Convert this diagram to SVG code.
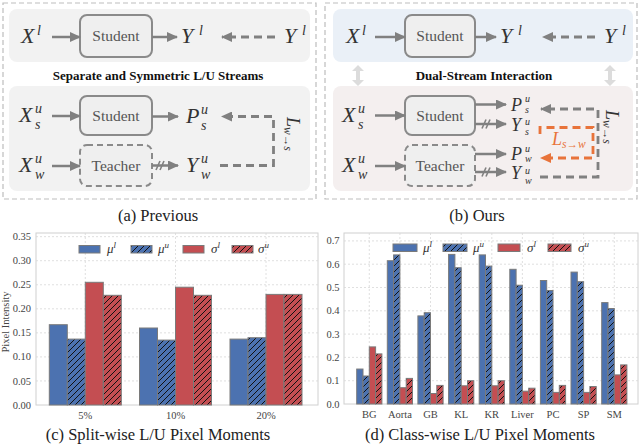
<svg xmlns="http://www.w3.org/2000/svg" width="640" height="446" viewBox="0 0 640 446">
<defs>
<style>
.frame{fill:none;stroke:#bdbdbd;stroke-width:1.2;stroke-dasharray:5 3}
.box{fill:#efefef;stroke:#8a8a8a;stroke-width:2}
.tbox{fill:#efefef;stroke:#8a8a8a;stroke-width:2;stroke-dasharray:6 4}
.lbl{font-family:"Liberation Serif","Times New Roman",serif;font-size:15.5px;fill:#555;text-anchor:middle}
.m{font-family:"Liberation Serif","Times New Roman",serif;font-style:italic;font-size:22px;fill:#333}
.ms{font-family:"Liberation Serif","Times New Roman",serif;font-style:italic;font-size:14px;fill:#333}
.m2{font-family:"Liberation Serif","Times New Roman",serif;font-style:italic;font-size:18px;fill:#333}
.ms2{font-family:"Liberation Serif","Times New Roman",serif;font-style:italic;font-size:11.5px;fill:#333}
.ms3{font-family:"Liberation Serif","Times New Roman",serif;font-style:italic;font-size:10px;fill:#333}
.arr{stroke:#808080;stroke-width:2.5;fill:none;marker-end:url(#ah)}
.darr{stroke:#808080;stroke-width:2.8;fill:none;stroke-dasharray:8 5;marker-end:url(#ah)}
.oarr{stroke:#e8733a;stroke-width:2.8;fill:none;stroke-dasharray:8 5;marker-end:url(#ahO)}
.sl{stroke:#808080;stroke-width:1.6}
.title{font-family:"Liberation Serif","Times New Roman",serif;font-weight:bold;font-size:13px;fill:#111;text-anchor:middle}
.cap{font-family:"Liberation Serif","Times New Roman",serif;font-size:16.5px;fill:#222;text-anchor:middle}
.tick{font-family:"Liberation Serif","Times New Roman",serif;font-size:10.5px;fill:#444}
.ty{text-anchor:end}
.tx{text-anchor:middle}
.grid{stroke:#d8d8d8;stroke-width:0.8;stroke-dasharray:2 2}
.pframe{fill:#fff;stroke:#d0d0d0;stroke-width:1}
.bar{stroke:#7a7a7a;stroke-width:1}
.b{fill:#4c72b0}
.hb{fill:url(#hB)}
.r{fill:#c44e52}
.hr{fill:url(#hR)}
.leg{font-family:"Liberation Serif","Times New Roman",serif;font-style:italic;font-size:13px;fill:#333}
.legs{font-size:9px}
.dbl{fill:#dcdcdc}
.or{fill:#e8733a}
</style>
<marker id="ah" viewBox="0 0 11 10" refX="10" refY="5" markerWidth="11" markerHeight="10" markerUnits="userSpaceOnUse" orient="auto"><path d="M0,0 L11,5 L0,10 z" fill="#808080"/></marker>
<marker id="ahO" viewBox="0 0 11 10" refX="10" refY="5" markerWidth="11" markerHeight="10" markerUnits="userSpaceOnUse" orient="auto"><path d="M0,0 L11,5 L0,10 z" fill="#e8733a"/></marker>
<pattern id="hB" patternUnits="userSpaceOnUse" width="6" height="6"><rect width="6" height="6" fill="#4c72b0"/><path d="M-1,1 L1,-1 M0,6 L6,0 M5,7 L7,5" stroke="#111" stroke-width="1"/></pattern>
<pattern id="hR" patternUnits="userSpaceOnUse" width="6" height="6"><rect width="6" height="6" fill="#c44e52"/><path d="M-1,1 L1,-1 M0,6 L6,0 M5,7 L7,5" stroke="#111" stroke-width="1"/></pattern>
</defs>

<!-- Panel (a) -->
<g id="panel-a">
<rect class="frame" x="3" y="3" width="313" height="196"/>
<rect x="9" y="9" width="301" height="53" rx="8" fill="#f2f2f2"/>
<rect x="9" y="86" width="301" height="105" rx="8" fill="#f2f2f2"/>
<text class="title" x="158" y="80">Separate and Symmetric L/U Streams</text>
<text class="cap" x="158" y="221">(a) Previous</text>
</g>
<g id="a-xl"><text class="m" x="21" y="43">X</text><text class="ms" x="37" y="35">l</text></g>
<g id="a-student1"><rect class="box" x="80" y="15" width="72" height="42" rx="7"/><text class="lbl" x="116" y="41">Student</text></g>
<g id="a-yl1"><text class="m" x="181" y="43">Y</text><text class="ms" x="199" y="35">l</text></g>
<g id="a-yl2"><text class="m" x="284" y="43">Y</text><text class="ms" x="302" y="35">l</text></g>
<g id="a-xsu"><text class="m" x="19" y="122">X</text><text class="ms" x="35" y="113">u</text><text class="ms" x="35" y="129">s</text></g>
<g id="a-student2"><rect class="box" x="80" y="96" width="72" height="39" rx="7"/><text class="lbl" x="116" y="121">Student</text></g>
<g id="a-psu"><text class="m" x="186" y="123">P</text><text class="ms" x="201" y="114">u</text><text class="ms" x="201" y="130">s</text></g>
<g id="a-xwu"><text class="m" x="19" y="172">X</text><text class="ms" x="35" y="163">u</text><text class="ms" x="35" y="179">w</text></g>
<g id="a-teacher"><rect class="tbox" x="80" y="145" width="72" height="41" rx="7"/><text class="lbl" x="116" y="171">Teacher</text></g>
<g id="a-ywu"><text class="m" x="186" y="172">Y</text><text class="ms" x="201" y="163">u</text><text class="ms" x="201" y="179">w</text></g>
<g id="a-lws"><text class="m2" transform="translate(287,117) rotate(90)">L<tspan class="ms2" dy="3">w→s</tspan></text></g>

<!-- Panel (b) -->
<g id="panel-b">
<rect class="frame" x="325" y="3" width="312" height="196"/>
<rect x="333" y="9" width="300" height="53" rx="8" fill="#eaf0f7"/>
<rect x="333" y="86" width="300" height="105" rx="8" fill="#f4efef"/>
<path class="dbl" d="M358,65 L364,71 L360,71 L360,80 L364,80 L358,86 L352,80 L356,80 L356,71 L352,71 Z"/>
<path class="dbl" d="M610,65 L616,71 L612,71 L612,80 L616,80 L610,86 L604,80 L608,80 L608,71 L604,71 Z"/>
<text class="title" x="484" y="80">Dual-Stream Interaction</text>
<text class="cap" x="477" y="221">(b) Ours</text>
</g>
<g id="b-xl"><text class="m" x="346" y="43">X</text><text class="ms" x="362" y="35">l</text></g>
<g id="b-student1"><rect class="box" x="405" y="15" width="70" height="42" rx="7"/><text class="lbl" x="440" y="41">Student</text></g>
<g id="b-yl1"><text class="m" x="500" y="43">Y</text><text class="ms" x="518" y="35">l</text></g>
<g id="b-yl2"><text class="m" x="604" y="43">Y</text><text class="ms" x="622" y="35">l</text></g>
<g id="b-xsu"><text class="m" x="342" y="122">X</text><text class="ms" x="358" y="113">u</text><text class="ms" x="358" y="129">s</text></g>
<g id="b-student2"><rect class="box" x="405" y="96" width="70" height="39" rx="7"/><text class="lbl" x="440" y="121">Student</text></g>
<g id="b-xwu"><text class="m" x="342" y="172">X</text><text class="ms" x="358" y="163">u</text><text class="ms" x="358" y="179">w</text></g>
<g id="b-teacher"><rect class="tbox" x="405" y="145" width="70" height="41" rx="7"/><text class="lbl" x="440" y="171">Teacher</text></g>
<g id="b-psu"><text class="m2" x="511" y="111">P</text><text class="ms3" x="525" y="102">u</text><text class="ms3" x="525" y="112.5">s</text></g>
<g id="b-ysu"><text class="m2" x="511" y="131">Y</text><text class="ms3" x="525" y="124.5">u</text><text class="ms3" x="525" y="135">s</text></g>
<g id="b-pwu"><text class="m2" x="511" y="160">P</text><text class="ms3" x="525" y="152">u</text><text class="ms3" x="525" y="162">w</text></g>
<g id="b-ywu"><text class="m2" x="511" y="179">Y</text><text class="ms3" x="525" y="173.5">u</text><text class="ms3" x="525" y="184">w</text></g>
<g id="b-lws"><text class="m2" transform="translate(606,110) rotate(90)">L<tspan class="ms2" dy="3">w→s</tspan></text></g>
<g id="b-lsw"><text class="m2 or" x="552" y="145">L<tspan class="ms2 or" dy="3">s→w</tspan></text></g>

<!-- Connectors -->
<g id="connectors">
<line class="arr" x1="52" y1="37" x2="80" y2="37"/>
<line class="arr" x1="152" y1="37" x2="177" y2="37"/>
<line class="darr" x1="275" y1="37" x2="222" y2="37"/>
<line class="arr" x1="52" y1="116" x2="80" y2="116"/>
<line class="arr" x1="152" y1="116.5" x2="178" y2="116.5"/>
<line class="arr" x1="52" y1="166" x2="80" y2="166"/>
<line class="arr" x1="152" y1="165.5" x2="178" y2="165.5"/>
<line class="sl" x1="156" y1="170" x2="160" y2="161"/><line class="sl" x1="160" y1="170" x2="164" y2="161"/>
<path class="darr" d="M220,165.5 L273.5,165.5 L273.5,116.5 L222,116.5"/>

<line class="arr" x1="375" y1="37" x2="405" y2="37"/>
<line class="arr" x1="475" y1="37" x2="496" y2="37"/>
<line class="darr" x1="595" y1="37" x2="543" y2="37"/>
<line class="arr" x1="375" y1="115.5" x2="405" y2="115.5"/>
<line class="arr" x1="375" y1="166" x2="405" y2="166"/>
<line class="arr" x1="475" y1="104.5" x2="506" y2="104.5"/>
<line class="arr" x1="475" y1="124" x2="506" y2="124"/>
<line class="sl" x1="482" y1="128.5" x2="486" y2="119.5"/><line class="sl" x1="486" y1="128.5" x2="490" y2="119.5"/>
<line class="arr" x1="475" y1="154" x2="506" y2="154"/>
<line class="arr" x1="475" y1="172" x2="506" y2="172"/>
<line class="sl" x1="482" y1="176.5" x2="486" y2="167.5"/><line class="sl" x1="486" y1="176.5" x2="490" y2="167.5"/>
<path class="darr" d="M540,177 L598,177 L598,109 L541,109"/>
<path class="oarr" d="M540,134 L540,127.5 L593,127.5 L593,158 L541,158"/>
</g>

<!-- Chart (c) -->
<g id="chart-c">
<rect class="pframe" x="36" y="233" width="282" height="172"/>
<g class="gridlines">
<line class="grid" x1="36" x2="318" y1="380.95" y2="380.95"/>
<line class="grid" x1="36" x2="318" y1="356.9" y2="356.9"/>
<line class="grid" x1="36" x2="318" y1="332.85" y2="332.85"/>
<line class="grid" x1="36" x2="318" y1="308.8" y2="308.8"/>
<line class="grid" x1="36" x2="318" y1="284.75" y2="284.75"/>
<line class="grid" x1="36" x2="318" y1="260.7" y2="260.7"/>
<line class="grid" x1="36" x2="318" y1="236.65" y2="236.65"/>
<line class="grid" x1="85.3" x2="85.3" y1="233" y2="405"/>
<line class="grid" x1="175.5" x2="175.5" y1="233" y2="405"/>
<line class="grid" x1="266" x2="266" y1="233" y2="405"/>
</g>
<g class="tick ty">
<text x="31" y="408.5">0.00</text>
<text x="31" y="384.5">0.05</text>
<text x="31" y="360.4">0.10</text>
<text x="31" y="336.4">0.15</text>
<text x="31" y="312.3">0.20</text>
<text x="31" y="288.3">0.25</text>
<text x="31" y="264.2">0.30</text>
<text x="31" y="240.2">0.35</text>
</g>
<g class="tick tx">
<text x="85.3" y="418.5">5%</text>
<text x="175.5" y="418.5">10%</text>
<text x="266" y="418.5">20%</text>
</g>
<text class="tick tx" transform="translate(9,322) rotate(-90)">Pixel Intensity</text>
<g class="bars">
<rect class="bar b" x="49.3" y="324.7" width="18" height="80.3"/>
<rect class="bar hb" x="67.3" y="339.1" width="18" height="65.9"/>
<rect class="bar r" x="85.3" y="282.3" width="18" height="122.7"/>
<rect class="bar hr" x="103.3" y="295.3" width="18" height="109.7"/>
<rect class="bar b" x="139.5" y="328" width="18" height="77"/>
<rect class="bar hb" x="157.5" y="340.1" width="18" height="64.9"/>
<rect class="bar r" x="175.5" y="287.2" width="18" height="117.8"/>
<rect class="bar hr" x="193.5" y="295.3" width="18" height="109.7"/>
<rect class="bar b" x="230" y="339.1" width="18" height="65.9"/>
<rect class="bar hb" x="248" y="337.7" width="18" height="67.3"/>
<rect class="bar r" x="266" y="294.4" width="18" height="110.6"/>
<rect class="bar hr" x="284" y="294.4" width="18" height="110.6"/>
</g>
<g class="legend">
<rect class="bar b" x="79" y="245.5" width="21" height="7.5"/>
<text class="leg" x="107" y="253">μ<tspan class="legs" dy="-5">l</tspan></text>
<rect class="bar hb" x="131" y="245.5" width="21" height="7.5"/>
<text class="leg" x="158" y="253">μ<tspan class="legs" dy="-5">u</tspan></text>
<rect class="bar r" x="183" y="245.5" width="21" height="7.5"/>
<text class="leg" x="211" y="253">σ<tspan class="legs" dy="-5">l</tspan></text>
<rect class="bar hr" x="232" y="245.5" width="21" height="7.5"/>
<text class="leg" x="258" y="253">σ<tspan class="legs" dy="-5">u</tspan></text>
</g>
<text class="cap" x="158" y="440">(c) Split-wise L/U Pixel Moments</text>
</g>

<!-- Chart (d) -->
<g id="chart-d">
<rect class="pframe" x="344" y="233" width="294" height="171"/>
<g class="gridlines">
<line class="grid" x1="344" x2="638" y1="380.7" y2="380.7"/>
<line class="grid" x1="344" x2="638" y1="357.4" y2="357.4"/>
<line class="grid" x1="344" x2="638" y1="334.1" y2="334.1"/>
<line class="grid" x1="344" x2="638" y1="310.8" y2="310.8"/>
<line class="grid" x1="344" x2="638" y1="287.5" y2="287.5"/>
<line class="grid" x1="344" x2="638" y1="264.2" y2="264.2"/>
<line class="grid" x1="344" x2="638" y1="240.9" y2="240.9"/>
<line class="grid" x1="369.3" x2="369.3" y1="233" y2="404"/>
<line class="grid" x1="399.9" x2="399.9" y1="233" y2="404"/>
<line class="grid" x1="430.5" x2="430.5" y1="233" y2="404"/>
<line class="grid" x1="461.2" x2="461.2" y1="233" y2="404"/>
<line class="grid" x1="491.8" x2="491.8" y1="233" y2="404"/>
<line class="grid" x1="522.4" x2="522.4" y1="233" y2="404"/>
<line class="grid" x1="553" x2="553" y1="233" y2="404"/>
<line class="grid" x1="583.6" x2="583.6" y1="233" y2="404"/>
<line class="grid" x1="614.3" x2="614.3" y1="233" y2="404"/>
</g>
<g class="tick ty">
<text x="339.5" y="407.5">0.0</text>
<text x="339.5" y="384.2">0.1</text>
<text x="339.5" y="360.9">0.2</text>
<text x="339.5" y="337.6">0.3</text>
<text x="339.5" y="314.3">0.4</text>
<text x="339.5" y="291">0.5</text>
<text x="339.5" y="267.7">0.6</text>
<text x="339.5" y="244.4">0.7</text>
</g>
<g class="tick tx">
<text x="369.3" y="418">BG</text>
<text x="399.9" y="418">Aorta</text>
<text x="430.5" y="418">GB</text>
<text x="461.2" y="418">KL</text>
<text x="491.8" y="418">KR</text>
<text x="522.4" y="418">Liver</text>
<text x="553" y="418">PC</text>
<text x="583.6" y="418">SP</text>
<text x="614.3" y="418">SM</text>
</g>
<g class="bars">
<rect class="bar b" x="356.7" y="369.05" width="6.3" height="34.95"/>
<rect class="bar hb" x="363" y="376" width="6.3" height="28"/>
<rect class="bar r" x="369.3" y="346.9" width="6.3" height="57.1"/>
<rect class="bar hr" x="375.6" y="353.9" width="6.3" height="50.1"/>

<rect class="bar b" x="387.3" y="260.7" width="6.3" height="143.3"/>
<rect class="bar hb" x="393.6" y="254.9" width="6.3" height="149.1"/>
<rect class="bar r" x="399.9" y="387.7" width="6.3" height="16.3"/>
<rect class="bar hr" x="406.2" y="378.4" width="6.3" height="25.6"/>

<rect class="bar b" x="417.9" y="315.9" width="6.3" height="88.1"/>
<rect class="bar hb" x="424.2" y="312.7" width="6.3" height="91.3"/>
<rect class="bar r" x="430.5" y="393.5" width="6.3" height="10.5"/>
<rect class="bar hr" x="436.8" y="385.4" width="6.3" height="18.6"/>

<rect class="bar b" x="448.6" y="254.4" width="6.3" height="149.6"/>
<rect class="bar hb" x="454.9" y="267.7" width="6.3" height="136.3"/>
<rect class="bar r" x="461.2" y="385.8" width="6.3" height="18.2"/>
<rect class="bar hr" x="467.5" y="380.7" width="6.3" height="23.3"/>

<rect class="bar b" x="479.2" y="254.9" width="6.3" height="149.1"/>
<rect class="bar hb" x="485.5" y="266.1" width="6.3" height="137.9"/>
<rect class="bar r" x="491.8" y="385.8" width="6.3" height="18.2"/>
<rect class="bar hr" x="498.1" y="380.7" width="6.3" height="23.3"/>

<rect class="bar b" x="509.8" y="269.3" width="6.3" height="134.7"/>
<rect class="bar hb" x="516.1" y="285.2" width="6.3" height="118.8"/>
<rect class="bar r" x="522.4" y="391.2" width="6.3" height="12.8"/>
<rect class="bar hr" x="528.7" y="388.2" width="6.3" height="15.8"/>

<rect class="bar b" x="540.4" y="280.5" width="6.3" height="123.5"/>
<rect class="bar hb" x="546.7" y="290.5" width="6.3" height="113.5"/>
<rect class="bar r" x="553" y="392.4" width="6.3" height="11.6"/>
<rect class="bar hr" x="559.3" y="385.4" width="6.3" height="18.6"/>

<rect class="bar b" x="571" y="272.1" width="6.3" height="131.9"/>
<rect class="bar hb" x="577.3" y="281.7" width="6.3" height="122.3"/>
<rect class="bar r" x="583.6" y="392.4" width="6.3" height="11.6"/>
<rect class="bar hr" x="589.9" y="386.5" width="6.3" height="17.5"/>

<rect class="bar b" x="601.7" y="302.6" width="6.3" height="101.4"/>
<rect class="bar hb" x="608" y="308.5" width="6.3" height="95.5"/>
<rect class="bar r" x="614.3" y="374.9" width="6.3" height="29.1"/>
<rect class="bar hr" x="620.6" y="364.9" width="6.3" height="39.1"/>
</g>
<g class="legend">
<rect class="bar b" x="393" y="244" width="24" height="7.5"/>
<text class="leg" x="423" y="251.5">μ<tspan class="legs" dy="-5">l</tspan></text>
<rect class="bar hb" x="443" y="244" width="24" height="7.5"/>
<text class="leg" x="473" y="251.5">μ<tspan class="legs" dy="-5">u</tspan></text>
<rect class="bar r" x="498" y="244" width="22" height="7.5"/>
<text class="leg" x="527" y="251.5">σ<tspan class="legs" dy="-5">l</tspan></text>
<rect class="bar hr" x="548" y="244" width="23" height="7.5"/>
<text class="leg" x="578" y="251.5">σ<tspan class="legs" dy="-5">u</tspan></text>
</g>
<text class="cap" x="480" y="440">(d) Class-wise L/U Pixel Moments</text>
</g>
</svg>
